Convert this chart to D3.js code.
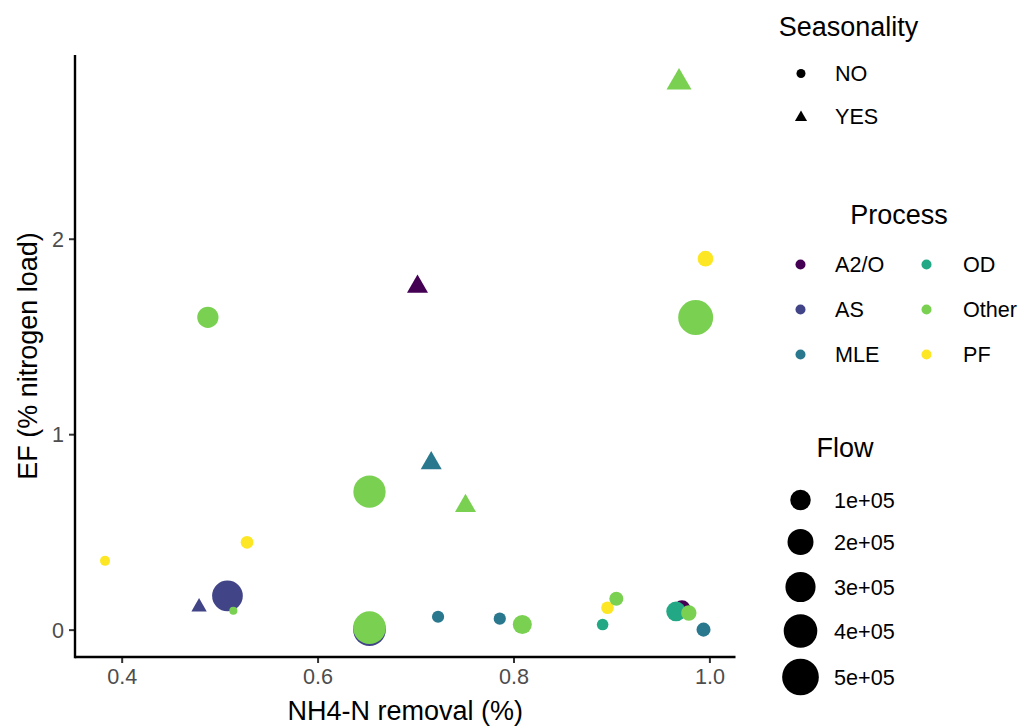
<!DOCTYPE html>
<html>
<head>
<meta charset="utf-8">
<script src="https://cdn.jsdelivr.net/npm/d3@7"></script>
<style>
  html, body { margin: 0; padding: 0; background: #fff; }
  svg { display: block; font-family: "Liberation Sans", Arial, sans-serif; }
</style>
</head>
<body>
<svg id="chart" width="1023" height="728"></svg>
<script>
// Plant-level observations, listed in drawing order
const removal  = [0.383, 0.528, 0.488, 0.479, 0.508, 0.514, 0.653, 0.653, 0.653, 0.702, 0.716, 0.751, 0.723, 0.786, 0.809, 0.891, 0.896, 0.905, 0.972, 0.966, 0.979, 0.994, 0.969, 0.996, 0.986];
const ef       = [0.352, 0.447, 1.598, 0.116, 0.173, 0.097, 0.000, 0.010, 0.706, 1.755, 0.852, 0.633, 0.066, 0.056, 0.026, 0.026, 0.112, 0.158, 0.107, 0.093, 0.085, 0.000, 2.800, 1.898, 1.597];
const process  = ["PF", "PF", "Other", "AS", "AS", "Other", "AS", "Other", "Other", "A2/O", "MLE", "Other", "MLE", "MLE", "Other", "OD", "PF", "Other", "A2/O", "OD", "Other", "MLE", "Other", "PF", "Other"];
const seasonal = ["NO", "NO", "NO", "YES", "NO", "NO", "NO", "NO", "NO", "YES", "YES", "YES", "NO", "NO", "NO", "NO", "NO", "NO", "NO", "NO", "NO", "NO", "YES", "NO", "NO"];
const flow     = [3700, 16000, 112000, 8900, 316000, 200, 370000, 370000, 360000, 38500, 38500, 38500, 13000, 13000, 78000, 10000, 16000, 25000, 53000, 87000, 36000, 25000, 72000, 39000, 443000];

// Legend contents
const seasonLevels = ["NO", "YES"];
const processLevels = ["A2/O", "AS", "MLE", "OD", "Other", "PF"];
const processColors = ["#440154", "#414487", "#2A788E", "#22A884", "#7AD151", "#FDE725"];
const flowBreaks = [100000, 200000, 300000, 400000, 500000];
const flowLabels = ["1e+05", "2e+05", "3e+05", "4e+05", "5e+05"];
const xTicks = [0.4, 0.6, 0.8, 1.0];
const yTicks = [0, 1, 2];

const svg = d3.select("#chart");
const panel = { left: 75, right: 735.5, top: 55, bottom: 657 };

// Domains padded by 5% of the data range on each side
function padded(values) {
  const [lo, hi] = d3.extent(values);
  const pad = (hi - lo) * 0.05;
  return [lo - pad, hi + pad];
}

const x = d3.scaleLinear().domain(padded(removal)).range([panel.left, panel.right]);
const y = d3.scaleLinear().domain(padded(ef)).range([panel.bottom, panel.top]);
const color = d3.scaleOrdinal().domain(processLevels).range(processColors);
// Marker diameter (px) grows with the square root of flow
const diam = d3.scalePow().exponent(0.5).domain([0, 500000]).range([7.5, 36.7]);

function markerPath(shape, d) {
  const area = Math.PI * (d / 2) * (d / 2);
  return d3.symbol().type(shape === "YES" ? d3.symbolTriangle : d3.symbolCircle).size(area)();
}

// Points
const rows = removal.map((v, i) => ({ x: v, y: ef[i], p: process[i], s: seasonal[i], f: flow[i] }));
svg.append("g").selectAll("path").data(rows).join("path")
  .attr("transform", d => `translate(${x(d.x)},${y(d.y)})`)
  .attr("d", d => markerPath(d.s, diam(d.f)))
  .attr("fill", d => color(d.p));

// Axes
const axisColor = "#000";
const tickText = "#4D4D4D";
const xAxis = svg.append("g").attr("transform", `translate(0,${panel.bottom})`)
  .call(d3.axisBottom(x).tickValues(xTicks).tickFormat(d3.format(".1f")).tickSize(6).tickPadding(5));
const yAxis = svg.append("g").attr("transform", `translate(${panel.left},0)`)
  .call(d3.axisLeft(y).tickValues(yTicks).tickFormat(d3.format("d")).tickSize(6).tickPadding(5));

[xAxis, yAxis].forEach(g => {
  g.select(".domain").remove();
  g.selectAll(".tick line").attr("stroke", "#333").attr("stroke-width", 2);
  g.selectAll(".tick text").attr("fill", tickText).style("font-size", "21.6px")
    .style("font-family", "'Liberation Sans', Arial, sans-serif");
});
xAxis.selectAll(".tick text").attr("dy", "0.75em");
yAxis.selectAll(".tick text").attr("dy", "0.36em");

svg.append("line").attr("x1", panel.left).attr("x2", panel.right)
  .attr("y1", panel.bottom).attr("y2", panel.bottom).attr("stroke", axisColor).attr("stroke-width", 2.4);
svg.append("line").attr("x1", panel.left).attr("x2", panel.left)
  .attr("y1", panel.top).attr("y2", panel.bottom + 1.2).attr("stroke", axisColor).attr("stroke-width", 2.4);

// Axis titles
svg.append("text").attr("x", (panel.left + panel.right) / 2).attr("y", 720)
  .attr("text-anchor", "middle").style("font-size", "27px").attr("fill", "#000")
  .text("NH4-N removal (%)");
svg.append("text").attr("transform", `translate(37,${(panel.top + panel.bottom) / 2}) rotate(-90)`)
  .attr("text-anchor", "middle").style("font-size", "27px").attr("fill", "#000")
  .text("EF (% nitrogen load)");

// Legends
const legend = svg.append("g");

// Seasonality (shape)
legend.append("text").attr("x", 848.5).attr("y", 36).attr("text-anchor", "middle")
  .style("font-size", "27px").text("Seasonality");
const seasonY = [73.5, 116];
seasonLevels.forEach((s, i) => {
  legend.append("path").attr("transform", `translate(801,${seasonY[i] + (s === "YES" ? 1.5 : 0)})`)
    .attr("d", markerPath(s, 9)).attr("fill", "#000");
  legend.append("text").attr("x", 835).attr("y", seasonY[i]).attr("dy", "0.36em")
    .style("font-size", "21.6px").text(s);
});

// Process (colour)
legend.append("text").attr("x", 899).attr("y", 224).attr("text-anchor", "middle")
  .style("font-size", "27px").text("Process");
const procRowY = [264.5, 309.5, 354.5];
processLevels.forEach((p, i) => {
  const col = Math.floor(i / 3), row = i % 3;
  const kx = col === 0 ? 800.5 : 926.5;
  const tx = col === 0 ? 835 : 963;
  legend.append("circle").attr("cx", kx).attr("cy", procRowY[row]).attr("r", 5)
    .attr("fill", color(p));
  legend.append("text").attr("x", tx).attr("y", procRowY[row]).attr("dy", "0.36em")
    .style("font-size", "21.6px").text(p);
});

// Flow (size)
legend.append("text").attr("x", 845).attr("y", 457).attr("text-anchor", "middle")
  .style("font-size", "27px").text("Flow");
const flowRowY = [500, 542, 587, 631, 677];
flowBreaks.forEach((f, i) => {
  legend.append("circle").attr("cx", 800.5).attr("cy", flowRowY[i]).attr("r", diam(f) / 2)
    .attr("fill", "#000");
  legend.append("text").attr("x", 834).attr("y", flowRowY[i]).attr("dy", "0.36em")
    .style("font-size", "21.6px").text(flowLabels[i]);
});
</script>
</body>
</html>
